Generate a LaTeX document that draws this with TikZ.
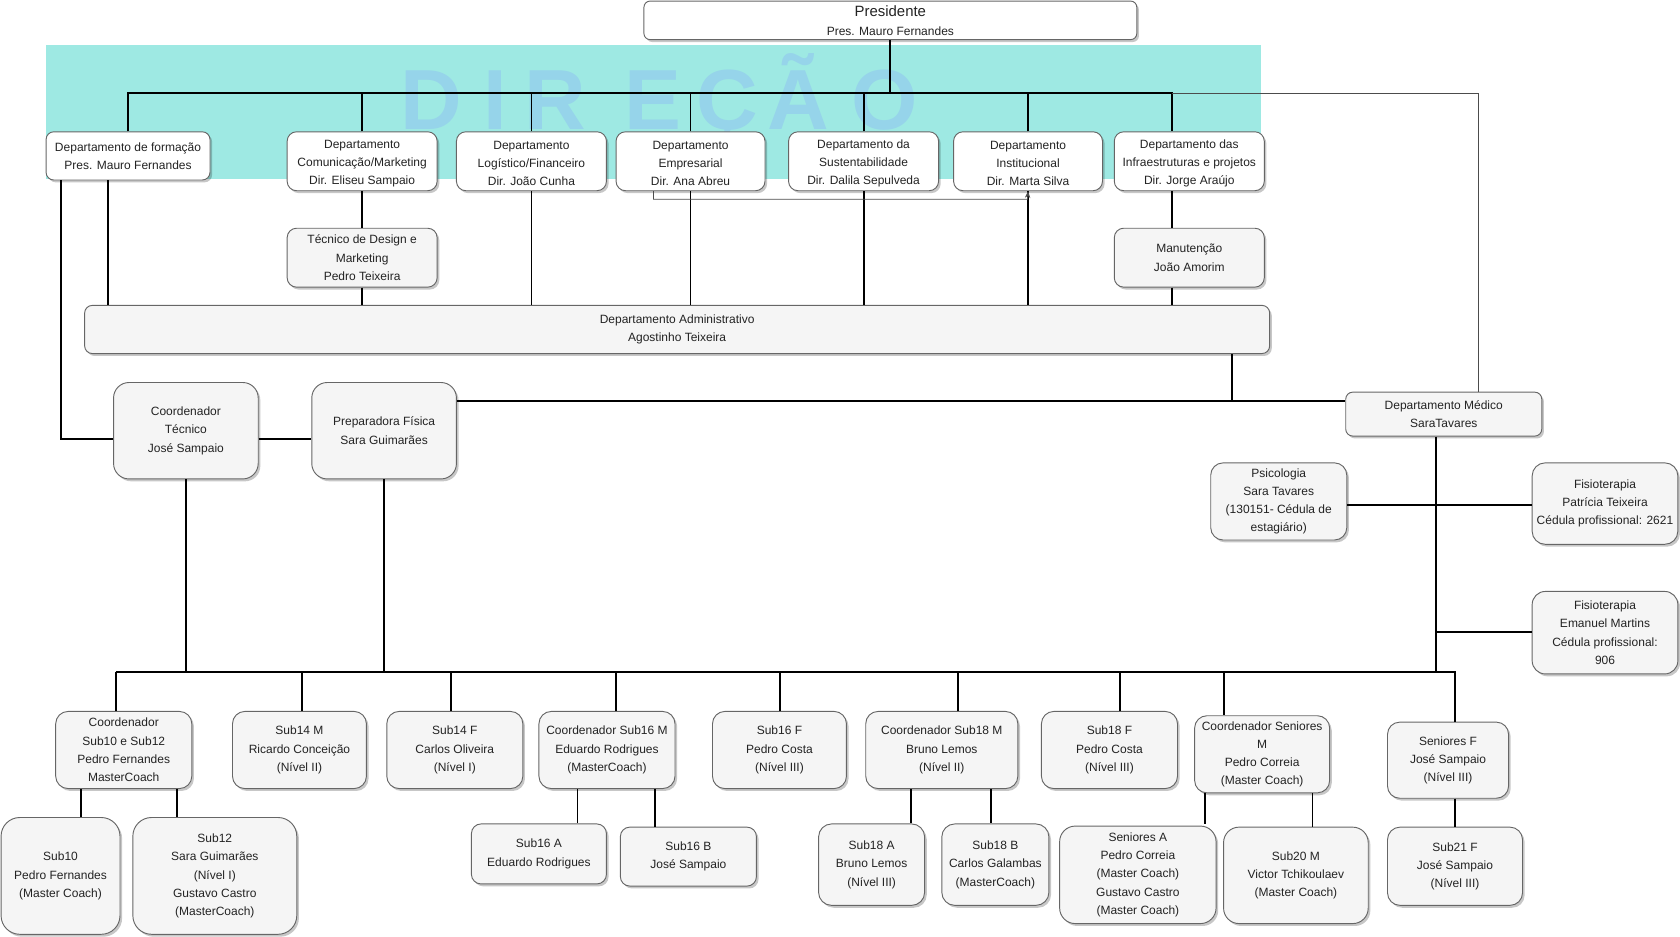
\documentclass[tikz,border=0pt]{standalone}
\usepackage{fontspec}
\setmainfont{Liberation Sans}
\usetikzlibrary{shadows,arrows.meta}
\definecolor{tealbg}{RGB}{158,233,227}
\definecolor{dirblue}{RGB}{150,212,234}
\definecolor{boxfill}{RGB}{245,245,245}
\definecolor{boxline}{RGB}{102,102,102}
\definecolor{txt}{RGB}{35,35,35}
\newcommand\bx[7][]{%
  \pgfmathsetmacro\bw{(#5-#3)*0.80357}%
  \pgfmathsetmacro\bh{(#6-#4)*0.80357}%
  \pgfmathsetmacro\br{min(\bw,\bh)*0.16}%
  \node[box,minimum width=\bw pt,minimum height=\bh pt,rounded corners=\br pt,#1] (#2) at ({(#3+#5)/2},{(#4+#6)/2}) {#7};}
\begin{document}
\begin{tikzpicture}[x=0.80357pt,y=-0.80357pt,
  box/.style={draw=boxline,line width=0.7pt,fill=boxfill,align=center,inner sep=0pt,
    text=txt,font=\fontsize{9}{13.7}\selectfont,
    drop shadow={shadow xshift=1.6pt,shadow yshift=-1.8pt,fill=black,opacity=0.22}},
  wbox/.style={fill=white},
  ln/.style={draw=black,line width=1.4pt},
  thn/.style={draw=black!70,line width=0.6pt},
  dir/.style={text=dirblue,font=\fontsize{64}{64}\selectfont\bfseries,anchor=base,inner sep=0pt,text depth=0pt,text height=50pt}]
\useasboundingbox (0,0) rectangle (1568,874);
% background band
\fill[tealbg] (43,42) rectangle (1177,167);
\node[dir] (dD) at (403,121) {D};
\node[dir] (dI) at (462,121) {I};
\node[dir] (dR) at (518,121) {R};
\node[dir] (dE) at (609,121) {E};
\node[dir] (dC) at (679,121) {Ç};
\node[dir] (dA) at (745,121) {Ã};
\node[dir] (dO) at (826,121) {O};
% boxes
\bx[wbox]{pres}{601}{1}{1061}{37}{{\fontsize{11.2}{12}\selectfont Presidente}\\[0.8pt]Pres. Mauro Fernandes}
\bx[wbox]{formacao}{43}{123}{196}{168}{Departamento de formação\\Pres. Mauro Fernandes}
\bx[wbox]{comun}{268}{123}{408}{178}{\strut Departamento\\Comunicação/Marketing\\Dir. Eliseu Sampaio}
\bx[wbox]{logist}{426}{123}{566}{178}{\strut Departamento\\Logístico/Financeiro\\Dir. João Cunha}
\bx[wbox]{empres}{575}{123}{714}{178}{\strut Departamento\\Empresarial\\Dir. Ana Abreu}
\bx[wbox]{sust}{736}{123}{876}{178}{\strut Departamento da\\Sustentabilidade\\Dir. Dalila Sepulveda}
\bx[wbox]{instit}{890}{123}{1029}{178}{\strut Departamento\\Institucional\\Dir. Marta Silva}
\bx[wbox]{infra}{1040}{123}{1180}{178}{\strut Departamento das\\Infraestruturas e projetos\\Dir. Jorge Araújo}
\bx{design}{268}{213}{408}{268}{Técnico de Design e\\Marketing\\Pedro Teixeira}
\bx{manut}{1040}{213}{1180}{268}{Manutenção\\João Amorim}
\bx{admin}{79}{285}{1185}{330}{Departamento Administrativo\\Agostinho Teixeira}
\bx{coordtec}{106}{357}{241}{447}{Coordenador\\Técnico\\José Sampaio}
\bx{prep}{291}{357}{426}{447}{Preparadora Física\\Sara Guimarães}
\bx{medico}{1256}{366}{1439}{407}{Departamento Médico\\SaraTavares}
\bx{psico}{1130}{432}{1257}{504}{Psicologia\\Sara Tavares\\(130151- Cédula de\\estagiário)}
\bx{fisio1}{1430}{432}{1566}{508}{Fisioterapia\\Patrícia Teixeira\\Cédula profissional: 2621}
\bx{fisio2}{1430}{552}{1566}{629}{Fisioterapia\\Emanuel Martins\\Cédula profissional:\\906}
\bx{c1012}{52}{664}{179}{736}{Coordenador\\Sub10 e Sub12\\Pedro Fernandes\\MasterCoach}
\bx{s14m}{217}{664}{342}{736}{Sub14 M\\Ricardo Conceição\\(Nível II)}
\bx{s14f}{361}{664}{488}{736}{Sub14 F\\Carlos Oliveira\\(Nível I)}
\bx{c16m}{503}{664}{630}{736}{Coordenador Sub16 M\\Eduardo Rodrigues\\(MasterCoach)}
\bx{s16f}{665}{664}{790}{736}{Sub16 F\\Pedro Costa\\(Nível III)}
\bx{c18m}{808}{664}{950}{736}{Coordenador Sub18 M\\Bruno Lemos\\(Nível II)}
\bx{s18f}{972}{664}{1099}{736}{Sub18 F\\Pedro Costa\\(Nível III)}
\bx{csen}{1115}{668}{1241}{740}{Coordenador Seniores\\M\\Pedro Correia\\(Master Coach)}
\bx{senf}{1295}{674}{1408}{745}{Seniores F\\José Sampaio\\(Nível III)}
\bx{s10}{1}{763}{112}{872}{Sub10\\Pedro Fernandes\\(Master Coach)}
\bx{s12}{124}{763}{277}{872}{Sub12\\Sara Guimarães\\(Nível I)\\Gustavo Castro\\(MasterCoach)}
\bx{s16a}{440}{769}{566}{825}{Sub16 A\\Eduardo Rodrigues}
\bx{s16b}{579}{772}{706}{827}{Sub16 B\\José Sampaio}
\bx{s18a}{764}{769}{863}{845}{Sub18 A\\Bruno Lemos\\(Nível III)}
\bx{s18b}{879}{769}{979}{845}{Sub18 B\\Carlos Galambas\\(MasterCoach)}
\bx{sena}{989}{771}{1135}{862}{Seniores A\\Pedro Correia\\(Master Coach)\\Gustavo Castro\\(Master Coach)}
\bx{s20m}{1142}{772}{1277}{862}{Sub20 M\\Victor Tchikoulaev\\(Master Coach)}
\bx{s21f}{1295}{772}{1421}{845}{Sub21 F\\José Sampaio\\(Nível III)}
% connectors: top
\draw[ln] (pres.south) -- (pres.south |- 0,87);
\draw[ln] (formacao.north) |- (1094,87) -- (infra.north -| 1094,0);
\foreach \n in {comun,logist,empres,sust,instit} \draw[ln] (\n.north) -- (\n.north |- 0,87);
\draw[thn] (1094,87) -| (medico.north -| 1380,0);
% below the directors
\draw[ln] (formacao.south -| 57,0) |- (coordtec.west |- 0,410);
\draw[ln] (formacao.south -| 101,0) -- (admin.north -| 101,0);
\draw[ln] (comun.south) -- (design.north);
\draw[ln] (design.south) -- (admin.north -| design.south);
\draw[ln] (logist.south) -- (admin.north -| logist.south);
\draw[ln] (empres.south) -- (admin.north -| empres.south);
\draw[ln] (sust.south) -- (admin.north -| sust.south);
\draw[ln] (admin.north -| instit.south) -- (instit.south);
\draw[thn,-{Stealth[length=5pt,width=4pt]}] (empres.south -| 610,0) |- (959,186) -- (instit.south);
\draw[ln] (infra.south -| 1094,0) -- (manut.north -| 1094,0);
\draw[ln] (manut.south -| 1094,0) -- (admin.north -| 1094,0);
\draw[ln] (admin.south -| 1150,0) -- (1150,374);
\draw[ln] (prep.east |- 0,374) -- (medico.west |- 0,374);
\draw[ln] (coordtec.east |- 0,410) -- (prep.west |- 0,410);
\draw[ln] (medico.south -| 1340,0) -- (1340,627);
\draw[ln] (psico.east |- 0,471) -- (fisio1.west |- 0,471);
\draw[ln] (1340,590) -- (fisio2.west |- 0,590);
% bottom bus
\draw[ln] (108,627) -- (1359,627);
\draw[ln] (coordtec.south) -- (coordtec.south |- 0,627);
\draw[ln] (prep.south) -- (prep.south |- 0,627);
\foreach \n/\x in {c1012/108,s14m/282,s14f/421,c16m/575,s16f/728,c18m/894,s18f/1045,csen/1142,senf/1358}
  \draw[ln] (\x,627) -- (\n.north -| \x,0);
\foreach \a/\b/\x in {c1012/s10/76,c1012/s12/165,c16m/s16a/539,c16m/s16b/611,c18m/s18a/850,c18m/s18b/925,csen/s20m/1225,senf/s21f/1358}
  \draw[ln] (\a.south -| \x,0) -- (\b.north -| \x,0);
\draw[ln] (csen.south -| 1125,0) -- (1125,769);
\end{tikzpicture}
\end{document}
